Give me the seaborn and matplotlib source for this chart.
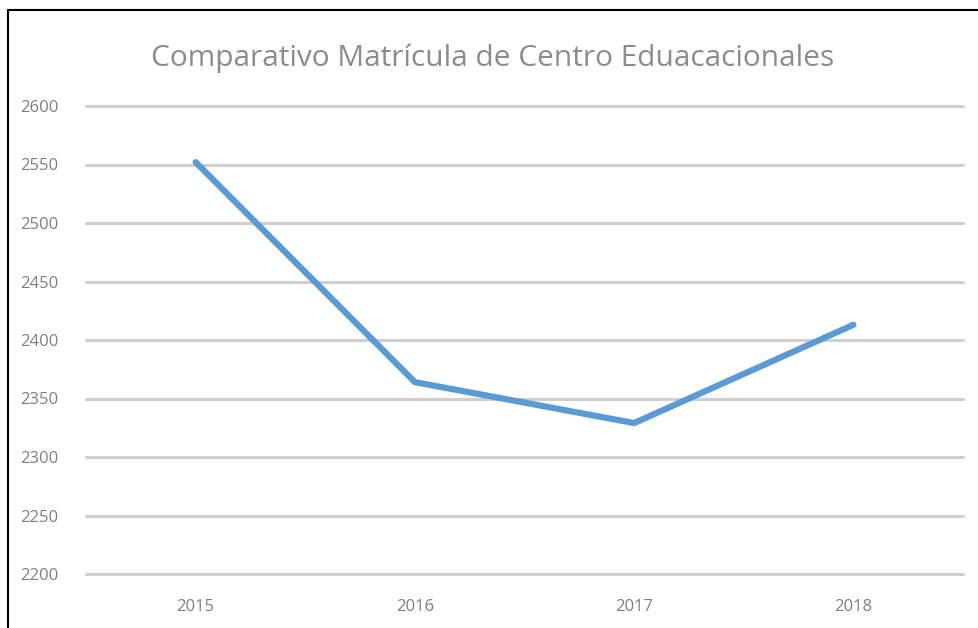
import pandas as pd
import seaborn as sns
import matplotlib.pyplot as plt
from matplotlib.lines import Line2D

# Data
years = ["2015", "2016", "2017", "2018"]
matricula = [2552, 2364, 2329, 2413]
y_ticks = [2200, 2250, 2300, 2350, 2400, 2450, 2500, 2550, 2600]

df = pd.DataFrame({"Año": years, "Matrícula": matricula})

sns.set_style("white")
plt.rcParams['font.family'] = ['Open Sans', 'DejaVu Sans']

fig = plt.figure(figsize=(9.79, 6.28), dpi=100)
ax = fig.add_axes([86 / 979, 54 / 628, 877 / 979, 468 / 628])

# Gridlines
for t in y_ticks:
    ax.axhline(t, color="#cfcfcf", linewidth=2.2, zorder=1, clip_on=False)

sns.lineplot(data=df, x="Año", y="Matrícula", ax=ax, color="#5b9bd5",
             linewidth=4.5, zorder=3, sort=False)

ax.set_xlim(-0.5, 3.5)
ax.set_ylim(2200, 2600)
ax.set_yticks(y_ticks)
ax.set_yticklabels([str(t) for t in y_ticks])
ax.tick_params(axis="y", length=0, pad=20, labelsize=12, labelcolor="#7f7f7f")
ax.tick_params(axis="x", length=0, pad=18, labelsize=12, labelcolor="#7f7f7f")
ax.set_xlabel("")
ax.set_ylabel("")
for s in ax.spines.values():
    s.set_visible(False)

fig.text(0.503, 1 - 58 / 628, "Comparativo Matrícula de Centro Eduacacionales",
         ha="center", va="center", fontsize=21.5, color="#8c8c8c")

# Chart frame (top and left edges visible)
fig.add_artist(Line2D([8 / 979, 1], [1 - 10 / 628, 1 - 10 / 628],
                      transform=fig.transFigure, color="black", linewidth=1.5))
fig.add_artist(Line2D([8 / 979, 8 / 979], [0, 1 - 10 / 628],
                      transform=fig.transFigure, color="black", linewidth=1.5))

fig.savefig("out.png", dpi=100)
